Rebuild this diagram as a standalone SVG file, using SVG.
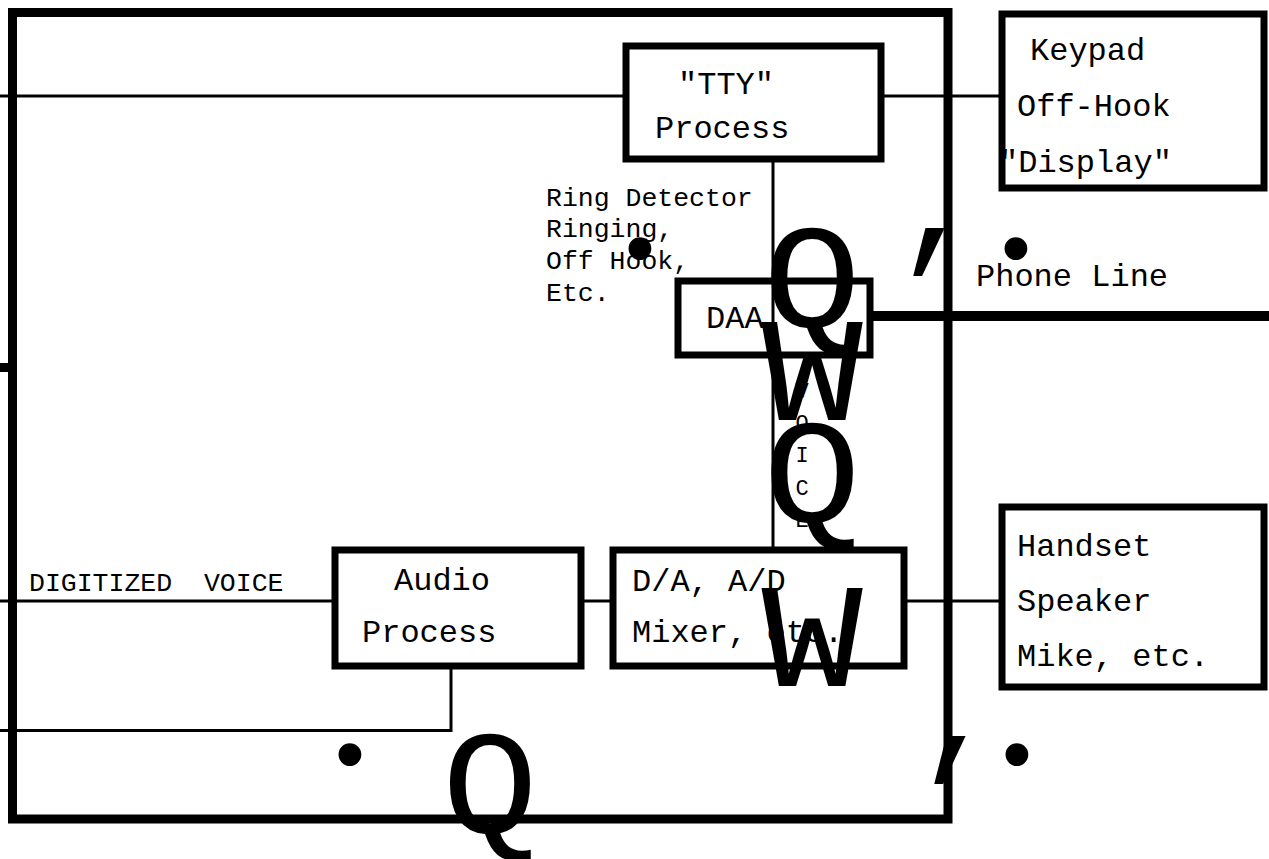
<svg xmlns="http://www.w3.org/2000/svg" width="1269" height="859" viewBox="0 0 1269 859">
<style>
  text { font-family: "Liberation Mono", "Courier New", monospace; fill: #000; white-space: pre; }
  .t32 { font-size: 32px; }
  .t26 { font-size: 26.5px; }
  .t22 { font-size: 22px; }
  .big { font-size: 148px; }
  .dot { font-size: 84px; }
  .box { fill: none; stroke: #000; stroke-width: 7; }
  .frame { fill: none; stroke: #000; stroke-width: 9; }
  .thin { fill: none; stroke: #000; stroke-width: 3; }
  .heavy { fill: none; stroke: #000; stroke-width: 10; }
</style>
<rect width="1269" height="859" fill="#fff"/>

<g id="frame">
  <rect class="frame" x="12.5" y="12.5" width="935.5" height="806.5"/>
</g>

<g id="connectors">
  <line class="thin" x1="0" y1="96" x2="626" y2="96"/>
  <line class="thin" x1="881" y1="96" x2="1002" y2="96"/>
  <line class="thin" x1="773" y1="159" x2="773" y2="550"/>
  <line class="heavy" x1="870" y1="316" x2="1269" y2="316"/>
  <line class="frame" x1="0" y1="367.5" x2="12" y2="367.5"/>
  <line class="thin" x1="0" y1="601" x2="335" y2="601"/>
  <line class="thin" x1="581" y1="601" x2="613" y2="601"/>
  <line class="thin" x1="904" y1="601" x2="1002" y2="601"/>
  <polyline class="thin" points="451,666 451,730.5 0,730.5"/>
</g>

<g id="tty">
  <rect class="box" x="626" y="46" width="255" height="113"/>
  <text class="t32" x="678" y="94">"TTY"</text>
  <text class="t32" x="655" y="138">Process</text>
</g>

<g id="keypad">
  <rect class="box" x="1002" y="14" width="262" height="174"/>
  <text class="t32" x="1030" y="60">Keypad</text>
  <text class="t32" x="1017" y="116">Off-Hook</text>
  <text class="t32" x="999" y="172">"Display"</text>
</g>

<g id="daa">
  <rect class="box" x="678" y="281" width="192" height="74"/>
  <text class="t32" x="706" y="328">DAA</text>
</g>

<g id="audio">
  <rect class="box" x="335" y="550" width="246" height="116"/>
  <text class="t32" x="394" y="590">Audio</text>
  <text class="t32" x="362" y="642">Process</text>
</g>

<g id="mixer">
  <rect class="box" x="613" y="550" width="291" height="116"/>
  <text class="t32" x="632" y="591">D/A, A/D</text>
  <text class="t32" x="632" y="642">Mixer, etc.</text>
</g>

<g id="handset">
  <rect class="box" x="1002" y="507" width="262" height="180"/>
  <text class="t32" x="1017" y="556">Handset</text>
  <text class="t32" x="1017" y="611">Speaker</text>
  <text class="t32" x="1017" y="666">Mike, etc.</text>
</g>

<g id="labels">
  <text class="t26" x="546" y="206">Ring Detector</text>
  <text class="t26" x="546" y="237">Ringing,</text>
  <text class="t26" x="546" y="269">Off Hook,</text>
  <text class="t26" x="546" y="301">Etc.</text>
  <text class="t32" x="976" y="286">Phone Line</text>
  <text class="t26" x="29" y="591">DIGITIZED  VOICE</text>
  <g text-anchor="middle">
    <text class="t22" x="802" y="398">V</text>
    <text class="t22" x="802" y="430">O</text>
    <text class="t22" x="802" y="462">I</text>
    <text class="t22" x="802" y="495">C</text>
    <text class="t22" x="802" y="527">E</text>
  </g>
</g>

<g id="glyphs" text-anchor="middle">
  <text class="big" transform="translate(812 327) scale(1.1 1)">Q</text>
  <text class="big" transform="translate(812 420) scale(1.14 1)">W</text>
  <text class="big" transform="translate(812 522) scale(1.1 1)">Q</text>
  <text class="big" transform="translate(812 686) scale(1.14 1)">W</text>
  <text class="big" transform="translate(490 833) scale(1.08 1)">Q</text>
  <text class="big" x="939" y="250">,</text>
  <text class="big" x="960" y="758">,</text>
  <text class="dot" x="640" y="276">•</text>
  <text class="dot" x="1016" y="276">•</text>
  <text class="dot" x="350" y="782">•</text>
  <text class="dot" x="1017" y="782">•</text>
</g>
</svg>
